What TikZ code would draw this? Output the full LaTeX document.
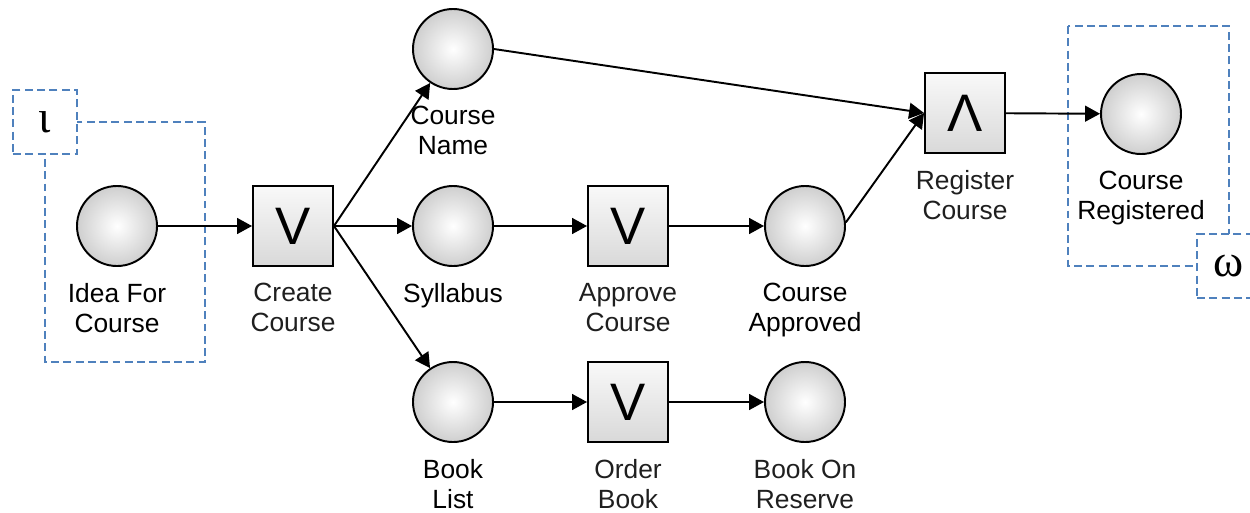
\documentclass[tikz,border=0pt]{standalone}
\usepackage{fontspec}
\setmainfont{Liberation Sans}
\newfontfamily\greekfont{Liberation Serif}
\usetikzlibrary{arrows.meta,positioning}
\definecolor{dashblue}{RGB}{79,129,189}

\begin{document}
\begin{tikzpicture}[
    place/.style={draw, circle, line width=1.1pt, minimum size=1.6cm, inner sep=0pt,
                  inner color=white, outer color=gray!38},
    trans/.style={draw, line width=1.1pt, minimum size=1.6cm, inner sep=0pt,
                  top color=gray!5, bottom color=gray!30, font=\fontsize{30}{30}\selectfont},
    lbl/.style={inner sep=0pt, align=center, font=\fontsize{15}{17}\selectfont},
    tlbl/.style={lbl, text=black!88},
    flow/.style={-{Triangle[length=8.5pt, width=9pt]}, line width=1.1pt},
    region/.style={draw=dashblue, line width=1.1pt, dash pattern=on 4.5pt off 2.5pt},
    endmark/.style={region, fill=white, minimum size=1.28cm, inner sep=0pt,
                    font=\greekfont\fontsize{26}{26}\selectfont},
]
\clip (0,0) rectangle (25,-10.24);

% input and output regions
\draw[region] (0.9,-2.44) rectangle (4.1,-7.24);
\draw[region] (21.36,-0.52) rectangle (24.58,-5.32);

% places and transitions
\node[place] (idea) at (2.34,-4.52) {};
\node[trans] (create) at (5.86,-4.52) {V};
\node[place] (cname) at (9.06,-0.98) {};
\node[place] (syll) at (9.06,-4.52) {};
\node[place] (blist) at (9.06,-8.04) {};
\node[trans] (approve) at (12.56,-4.52) {V};
\node[trans] (order) at (12.56,-8.04) {V};
\node[place] (capproved) at (16.10,-4.52) {};
\node[place] (reserve) at (16.10,-8.04) {};
\node[trans] (register) at (19.30,-2.26) {Λ};
\node[place] (cregistered) at (22.82,-2.28) {};

% labels
\node[lbl, below=0.32cm of idea] (idealbl) {Idea For\\Course};
\node[tlbl, below=0.32cm of create] (createlbl) {Create\\Course};
\node[lbl, below=0.32cm of cname] (cnamelbl) {Course\\Name};
\node[lbl, below=0.32cm of syll] (syllbl) {Syllabus};
\node[lbl, below=0.32cm of blist] (blistlbl) {Book\\List};
\node[tlbl, below=0.32cm of approve] (approvelbl) {Approve\\Course};
\node[tlbl, below=0.32cm of order] (orderlbl) {Order\\Book};
\node[lbl, below=0.32cm of capproved] (capprovedlbl) {Course\\Approved};
\node[tlbl, below=0.32cm of reserve] (reservelbl) {Book On\\Reserve};
\node[tlbl, below=0.32cm of register] (registerlbl) {Register\\Course};
\node[lbl, below=0.32cm of cregistered] (cregisteredlbl) {Course\\Registered};

% arcs
\draw[flow] (idea) -- (create);
\draw[flow] (create.east) -- (cname);
\draw[flow] (create.east) -- (syll);
\draw[flow] (create.east) -- (blist);
\draw[flow] (syll) -- (approve);
\draw[flow] (approve) -- (capproved);
\draw[flow] (blist) -- (order);
\draw[flow] (order) -- (reserve);
\draw[flow] (cname.east) -- (register.west);
\draw[flow] (capproved.5) -- (register.west);
\draw[flow] (register) -- (cregistered);

% start and end markers
\node[endmark] (init) at (0.9,-2.44) {\raisebox{-3pt}{ι}};
\node[endmark] (final) at (24.58,-5.32) {\raisebox{-2pt}{ω}};
\end{tikzpicture}
\end{document}
